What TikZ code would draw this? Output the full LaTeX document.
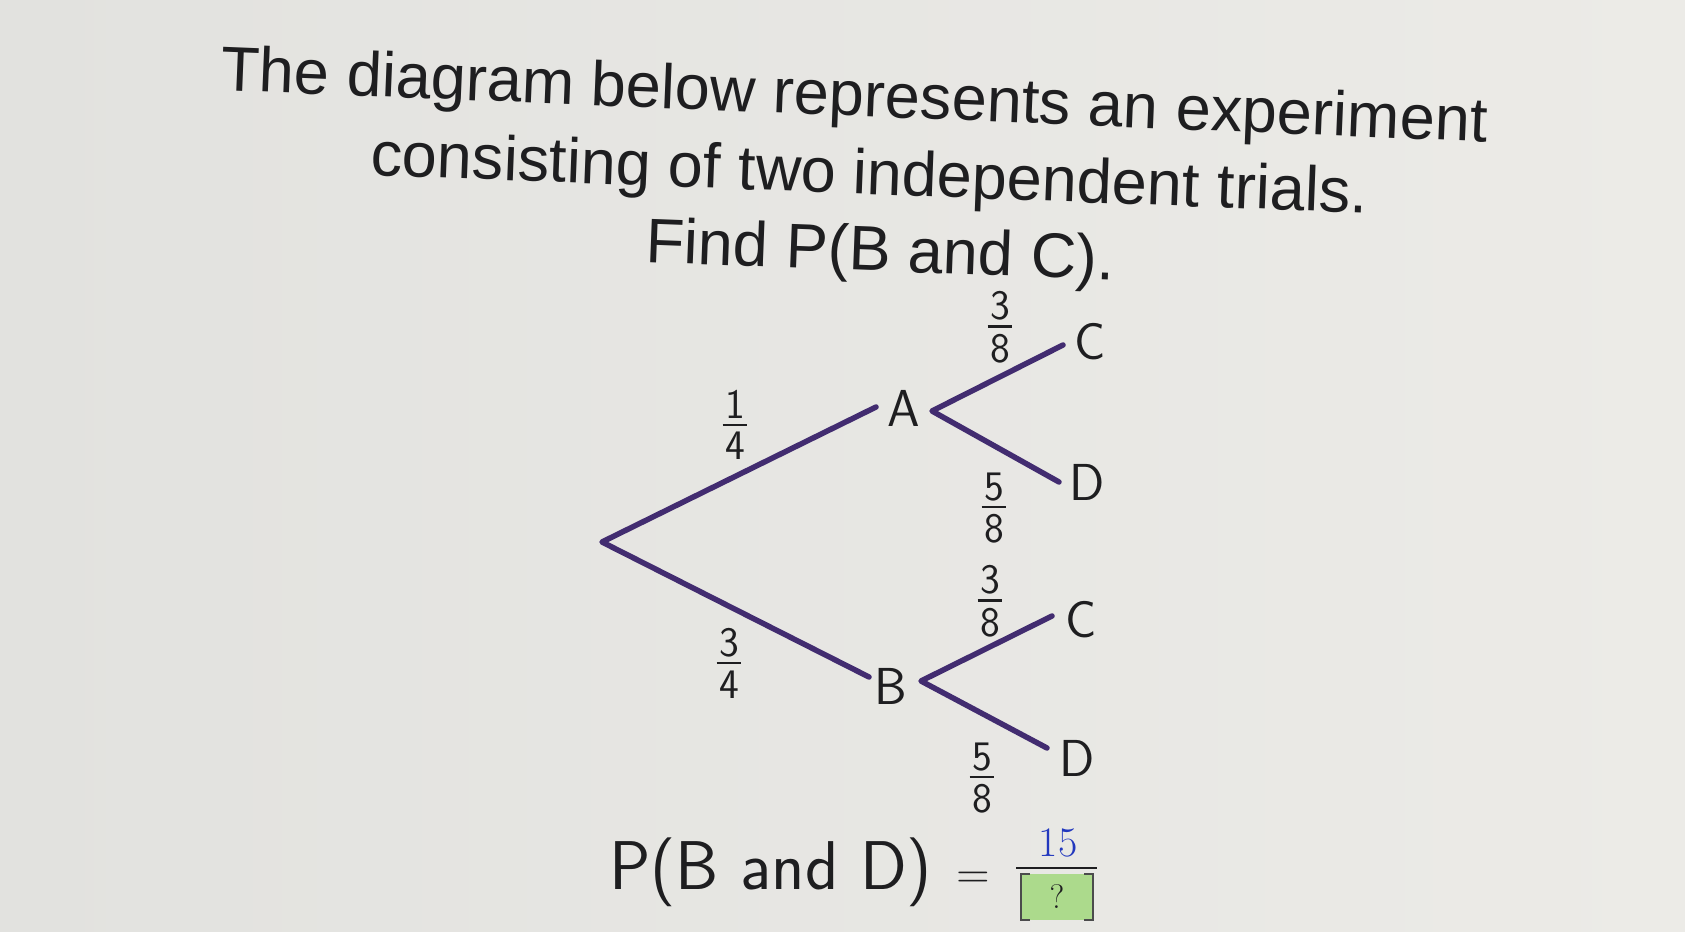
\RequirePackage{fix-cm}
\documentclass[tikz,border=0pt]{standalone}
\usepackage{fontspec}
\usepackage{amsmath}
\newfontfamily\titlefont{Liberation Sans}
\definecolor{treepurple}{RGB}{66,44,112}
\definecolor{inkblack}{RGB}{30,30,32}
\definecolor{paperleft}{RGB}{226,226,223}
\definecolor{paperright}{RGB}{236,235,231}
\definecolor{answergreen}{RGB}{172,218,140}
\definecolor{answerblue}{RGB}{34,56,190}
\newcommand\pfrac[2]{\vbox{\offinterlineskip\halign{\hfil\kern2.5pt##\kern2.5pt\hfil\cr #1\cr\noalign{\kern5pt\hrule height 2.6pt\kern6pt}#2\cr}}}
\begin{document}
\begin{tikzpicture}[x=1pt,y=-1pt,
  titletext/.style={inner sep=0pt, anchor=base west, text=inkblack, font=\titlefont\fontsize{63}{70}\selectfont},
  branch/.style={draw=treepurple, line width=5.5pt, line cap=round, line join=round},
  outcome/.style={inner sep=0pt, text=inkblack, font=\sffamily\fontsize{52}{60}\selectfont},
  prob/.style={inner sep=0pt, text=inkblack, font=\sffamily\fontsize{42}{48}\selectfont},
  formula/.style={inner sep=0pt, anchor=base west, text=inkblack, font=\sffamily\fontsize{69}{76}\selectfont},
]
\useasboundingbox (0,0) rectangle (1685,931);
\shade[left color=paperleft, right color=paperright] (0,0) rectangle (1685,931);

% title
\node[titletext, rotate=-2.35] (t1) at (220,90) {The diagram below represents an experiment};
\node[titletext, rotate=-2.2] (t2) at (370,175) {consisting of two independent trials.};
\node[titletext, rotate=-2.2] (t3) at (645,262) {Find P(B and C).};

% tree coordinates
\coordinate (root) at (602,542);
\coordinate (Ain) at (876,407);
\coordinate (Aout) at (932,411);
\coordinate (AC) at (1063,345);
\coordinate (AD) at (1059,482);
\coordinate (Bin) at (869,677);
\coordinate (Bout) at (921,681);
\coordinate (BC) at (1052,616);
\coordinate (BD) at (1047,748);

\draw[branch] (Ain) -- (root) -- (Bin);
\draw[branch] (AC) -- (Aout) -- (AD);
\draw[branch] (BC) -- (Bout) -- (BD);

% outcome labels
\node[outcome] (A) at (904,408) {A};
\node[outcome] (C1) at (1090,342) {C};
\node[outcome] (D1) at (1087,482) {D};
\node[outcome] (B) at (891,686) {B};
\node[outcome] (C2) at (1081,620) {C};
\node[outcome] (D2) at (1077,758) {D};

% probabilities
\node[prob] (p14) at (735,425) {\pfrac{1}{4}};
\node[prob] (p34) at (729,663) {\pfrac{3}{4}};
\node[prob] (pAC) at (1000,327) {\pfrac{3}{8}};
\node[prob] (pAD) at (994,508) {\pfrac{5}{8}};
\node[prob] (pBC) at (990,601) {\pfrac{3}{8}};
\node[prob] (pBD) at (982,778) {\pfrac{5}{8}};

% answer formula
\node[formula] (lhs) at (609,889) {P(B and D)};
\node[inner sep=0pt, anchor=base, text=inkblack, font=\fontsize{46}{52}\selectfont] (eq) at (973,888) {$=$};
\node[inner sep=0pt, text=answerblue, font=\fontsize{42}{48}\selectfont] (num) at (1058,843) {15};
\coordinate (barL) at (1016,868);
\coordinate (barR) at (1097,868);
\draw[inkblack, line width=2pt] (barL) -- (barR);
\node[fill=answergreen, minimum width=72pt, minimum height=46pt, inner sep=0pt, text=inkblack, font=\fontsize{34}{40}\selectfont] (gbox) at (1057,897) {?};
\draw[inkblack!80, line width=2pt] ([xshift=9pt]gbox.north west) -- (gbox.north west) -- (gbox.south west) -- ([xshift=9pt]gbox.south west);
\draw[inkblack!80, line width=2pt] ([xshift=-9pt]gbox.north east) -- (gbox.north east) -- (gbox.south east) -- ([xshift=-9pt]gbox.south east);
\end{tikzpicture}
\end{document}
